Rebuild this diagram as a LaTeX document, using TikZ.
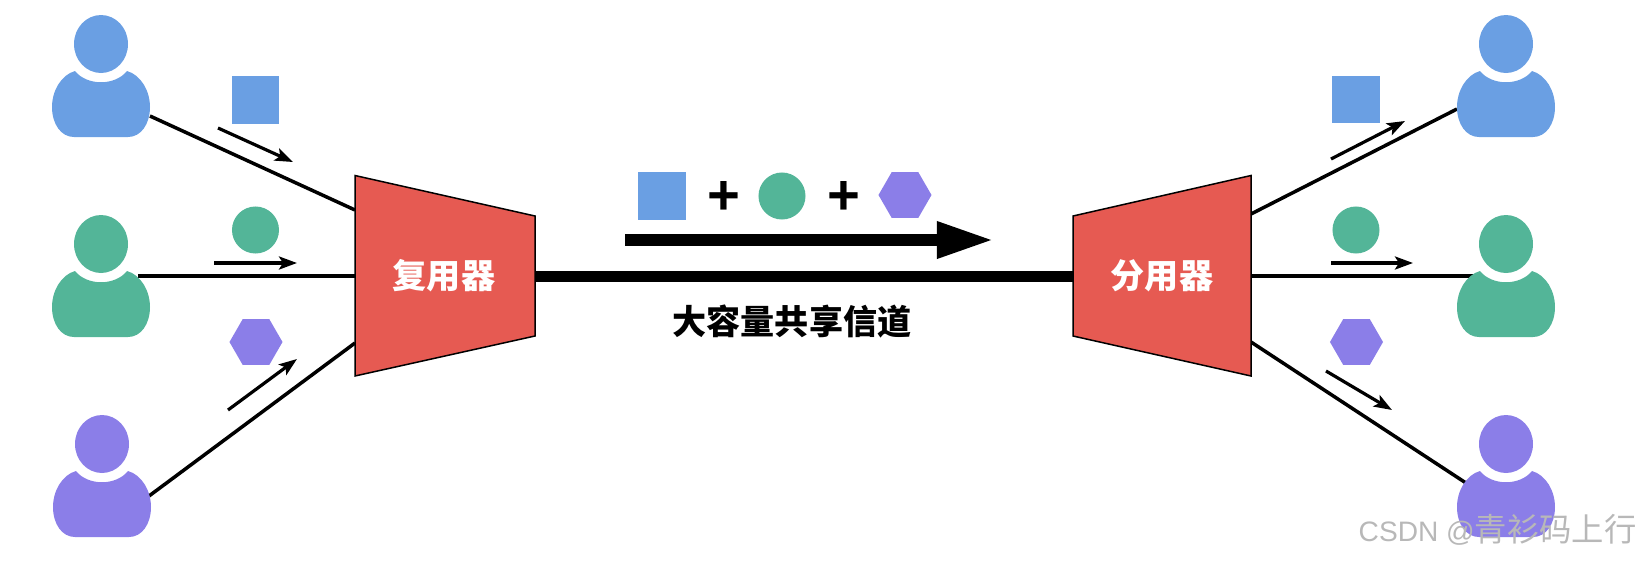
\documentclass[tikz,border=0pt]{standalone}
\usepackage{fontspec}
\setmainfont{Liberation Sans}
\newfontfamily\cjk{Noto Sans CJK SC}
\usetikzlibrary{shapes.geometric,arrows.meta,positioning}
\definecolor{cblue}{HTML}{6A9FE3}
\definecolor{cgreen}{HTML}{53B598}
\definecolor{cpurple}{HTML}{8B7EE8}
\definecolor{cred}{HTML}{E65A52}
\tikzset{
sq/.style={rectangle,fill=#1,minimum size=.47cm,inner sep=0},
rnd/.style={circle,fill=#1,minimum size=.47cm,inner sep=0},
hexa/.style={regular polygon,regular polygon sides=6,fill=#1,minimum size=.53cm,inner sep=0},
boxname/.style={font=\cjk\bfseries\fontsize{9.7pt}{11pt}\selectfont,text=#1,inner sep=0},
link/.style={line width=.035cm},
flow/.style={line width=.032cm,-{Stealth[length=.18cm,width=.13cm,inset=.04cm]}},
}
\begin{document}
\begin{tikzpicture}[x=.01cm,y=-.01cm]
\useasboundingbox (0,0) rectangle (1638,560);

\coordinate (u0) at (150,116);
\coordinate (u1) at (138,276);
\coordinate (u2) at (149,496);
\coordinate (m0) at (355,210);
\coordinate (m1) at (355,276);
\coordinate (m2) at (355,343);
\coordinate (d0) at (1251,214);
\coordinate (d1) at (1251,276);
\coordinate (d2) at (1251,342);
\coordinate (v0) at (1457,109);
\coordinate (v1) at (1474,276);
\coordinate (v2) at (1466,483);

\foreach \x in {0,1,2} {
\draw[link] (u\x) -- (m\x);
\draw[link] (d\x) -- (v\x);
}

\foreach \x/\y/\c in {101/44/cblue,101/244/cgreen,102/444/cpurple,1506/44/cblue,1506/244/cgreen,1506/444/cpurple} {
\fill[\c] (\x,\y) ellipse [x radius=27,y radius=29];
\fill[\c] (\x-26,\y+27) .. controls (\x-14,\y+42) and (\x+14,\y+42) .. (\x+26,\y+27)
  .. controls (\x+40,\y+31) and (\x+49,\y+47) .. (\x+49,\y+63)
  .. controls (\x+49,\y+80) and (\x+40,\y+93) .. (\x+27,\y+93)
  -- (\x-27,\y+93)
  .. controls (\x-40,\y+93) and (\x-49,\y+80) .. (\x-49,\y+63)
  .. controls (\x-49,\y+47) and (\x-40,\y+31) .. (\x-26,\y+27) -- cycle;
}

\draw[fill=cred,line width=.015cm] (355,175.5) -- (535,216) -- (535,336) -- (355,376) -- cycle;
\draw[fill=cred,line width=.015cm] (1073,216) -- (1251,175.5) -- (1251,376) -- (1073,336) -- cycle;
\node[boxname=white] (mux) at (444,276) {复用器};
\node[boxname=white] (demux) at (1162,276) {分用器};

\coordinate (chl) at (535,276);
\coordinate (chr) at (1073,276);
\draw[line width=.11cm] (chl) -- (chr);
\node[boxname=black] (chname) at (792,321) {大容量共享信道};

\node[sq=cblue] (s0) at (255.5,100) {};
\node[rnd=cgreen] (s1) at (255.5,230) {};
\node[hexa=cpurple] (s2) at (256,342) {};
\node[sq=cblue] (t0) at (1356,99.5) {};
\node[rnd=cgreen] (t1) at (1356,230) {};
\node[hexa=cpurple] (t2) at (1356.5,342) {};

\coordinate (a0) at (218,128);
\coordinate (b0) at (293,162);
\coordinate (a1) at (214,263);
\coordinate (b1) at (297,263);
\coordinate (a2) at (228,410);
\coordinate (b2) at (297,359);
\coordinate (a3) at (1331,159);
\coordinate (b3) at (1405,121);
\coordinate (a4) at (1331,263);
\coordinate (b4) at (1413,263);
\coordinate (a5) at (1326,371);
\coordinate (b5) at (1392,410);
\foreach \x in {0,1,2,3,4,5} {
\draw[flow] (a\x) -- (b\x);
}

\node[sq=cblue] (all0) at (662,196) {};
\node[font=\bfseries\fontsize{16pt}{16pt}\selectfont,inner sep=0] (p0) at (724,198) {+};
\node[rnd=cgreen] (all1) at (782,196) {};
\node[font=\bfseries\fontsize{16pt}{16pt}\selectfont,inner sep=0] (p1) at (844,198) {+};
\node[hexa=cpurple] (all2) at (905,195) {};

\coordinate (fl) at (625,240);
\coordinate (fr) at (994,240);
\draw[line width=.12cm,-{Triangle[length=.57cm,width=.34cm]}] (fl) -- (fr);

\node[text=black!28,anchor=base west,inner sep=0,font=\fontsize{8pt}{10pt}\selectfont] (mark) at (1358,541) {CSDN @{\cjk\fontsize{9.2pt}{10pt}\selectfont 青衫码上行}};
\end{tikzpicture}
\end{document}
